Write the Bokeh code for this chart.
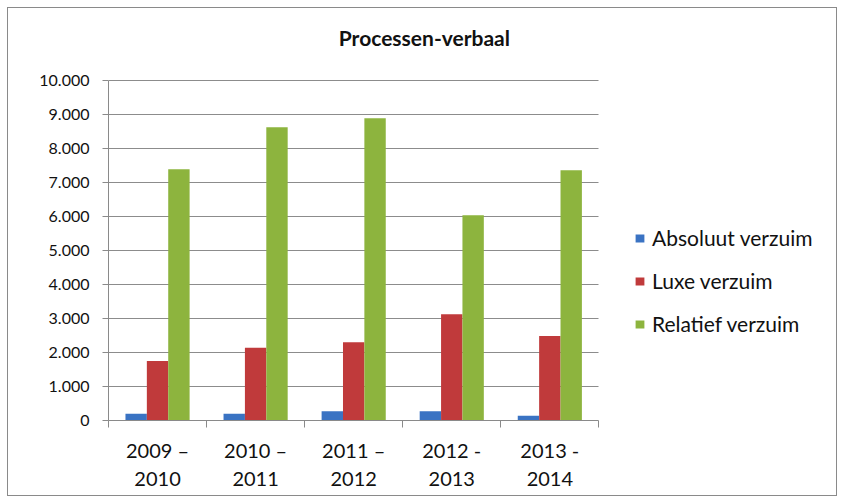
import numpy as np
from bokeh.plotting import figure
from bokeh.models import (ColumnDataSource, FixedTicker, Legend, LegendItem, Label)
from bokeh.transform import dodge
from bokeh.embed import file_html
from bokeh.resources import INLINE

categories = ["2009 –\n2010", "2010 –\n2011", "2011 –\n2012", "2012 -\n2013", "2013 -\n2014"]
absoluut = [200, 200, 275, 275, 140]
luxe = [1750, 2140, 2300, 3130, 2490]
relatief = [7400, 8630, 8900, 6040, 7370]
y_ticks = [0, 1000, 2000, 3000, 4000, 5000, 6000, 7000, 8000, 9000, 10000]
y_labels = ["0", "1.000", "2.000", "3.000", "4.000", "5.000", "6.000", "7.000", "8.000", "9.000", "10.000"]
series_names = ["Absoluut verzuim", "Luxe verzuim", "Relatief verzuim"]
colors = ["#3A73C3", "#C03A3B", "#8DB43E"]
title_text = "Processen-verbaal"

FONT = "Lato"
BAR_W = 0.218
N = len(categories)

# layout: the value area is 489 x 338 px; the frame is extended right and up so
# that legend and title can sit inside it (grid and axes are bounded to the data area)
W, H = 830, 489
LEFT, RIGHT, TOP, BOTTOM = 100, 10, 10, 77
PLOT_W, PLOT_H = 489.0, 338.0
frame_w = W - 2 - LEFT - RIGHT
frame_h = H - 2 - TOP - BOTTOM
x_end = N * frame_w / PLOT_W
y_max = y_ticks[-1]
y_end = y_max * frame_h / PLOT_H

idx = np.arange(N) + 0.5
src = ColumnDataSource(dict(x=idx, a=absoluut, l=luxe, r=relatief))

p = figure(width=W, height=H, output_backend="svg", toolbar_location=None,
           x_range=(0, x_end), y_range=(0, y_end),
           min_border_left=LEFT, min_border_right=RIGHT, min_border_top=TOP, min_border_bottom=BOTTOM)
p.styles = {"border": "1px solid #8a8a8a", "margin-left": "7px", "margin-top": "7px"}
p.outline_line_color = None
p.background_fill_color = "white"
p.border_fill_color = "white"

# title, centred on the whole chart box
title_x = (423 - 108) / PLOT_W * N
title_y = y_max + 43 / PLOT_H * y_max
p.add_layout(Label(x=title_x, y=title_y, text=title_text, text_align="center",
                   text_baseline="middle", text_font=FONT, text_font_size="21px",
                   text_font_style="bold", text_color="#111111"))

r1 = p.vbar(x=dodge("x", -BAR_W, range=p.x_range), top="a", width=BAR_W, source=src,
            fill_color=colors[0], line_color=None)
r2 = p.vbar(x=dodge("x", 0, range=p.x_range), top="l", width=BAR_W, source=src,
            fill_color=colors[1], line_color=None)
r3 = p.vbar(x=dodge("x", BAR_W, range=p.x_range), top="r", width=BAR_W, source=src,
            fill_color=colors[2], line_color=None)

# y axis
p.yaxis.bounds = (0, y_max)
p.yaxis.ticker = FixedTicker(ticks=y_ticks)
p.yaxis.major_label_overrides = {t: s for t, s in zip(y_ticks, y_labels)}
p.yaxis.axis_line_color = "#8a8a8a"
p.yaxis.major_tick_line_color = "#8a8a8a"
p.yaxis.major_tick_out = 6
p.yaxis.major_tick_in = 0
p.yaxis.minor_tick_line_color = None
p.yaxis.major_label_text_font = FONT
p.yaxis.major_label_text_font_size = "16px"
p.yaxis.major_label_text_color = "#111111"
p.yaxis.major_label_standoff = 13

# x axis
p.xaxis.bounds = (0, N)
p.xaxis.ticker = FixedTicker(ticks=list(idx), minor_ticks=list(range(N + 1)))
p.xaxis.major_label_overrides = {float(t): s for t, s in zip(idx, categories)}
p.xaxis.axis_line_color = "#8a8a8a"
p.xaxis.major_tick_line_color = None
p.xaxis.minor_tick_line_color = "#8a8a8a"
p.xaxis.minor_tick_out = 7
p.xaxis.minor_tick_in = 0
p.xaxis.major_label_text_font = FONT
p.xaxis.major_label_text_font_size = "20px"
p.xaxis.major_label_text_color = "#111111"
p.xaxis.major_label_standoff = 10

p.xgrid.grid_line_color = None
p.ygrid.ticker = FixedTicker(ticks=y_ticks)
p.ygrid.cross_bounds = (0, N)
p.ygrid.grid_line_color = "#8c8c8c"
p.ygrid.grid_line_width = 1

legend = Legend(items=[LegendItem(label=series_names[0], renderers=[r1]),
                       LegendItem(label=series_names[1], renderers=[r2]),
                       LegendItem(label=series_names[2], renderers=[r3])],
                location=(526, 84))
legend.label_text_font = FONT
legend.label_text_font_size = "21px"
legend.label_text_color = "#111111"
legend.glyph_width = 11
legend.glyph_height = 10
legend.label_height = 20
legend.label_standoff = 7
legend.spacing = 18
legend.padding = 0
legend.margin = 0
legend.border_line_color = None
legend.background_fill_alpha = 0
p.add_layout(legend)

open("out.html", "w").write(file_html(p, INLINE))
